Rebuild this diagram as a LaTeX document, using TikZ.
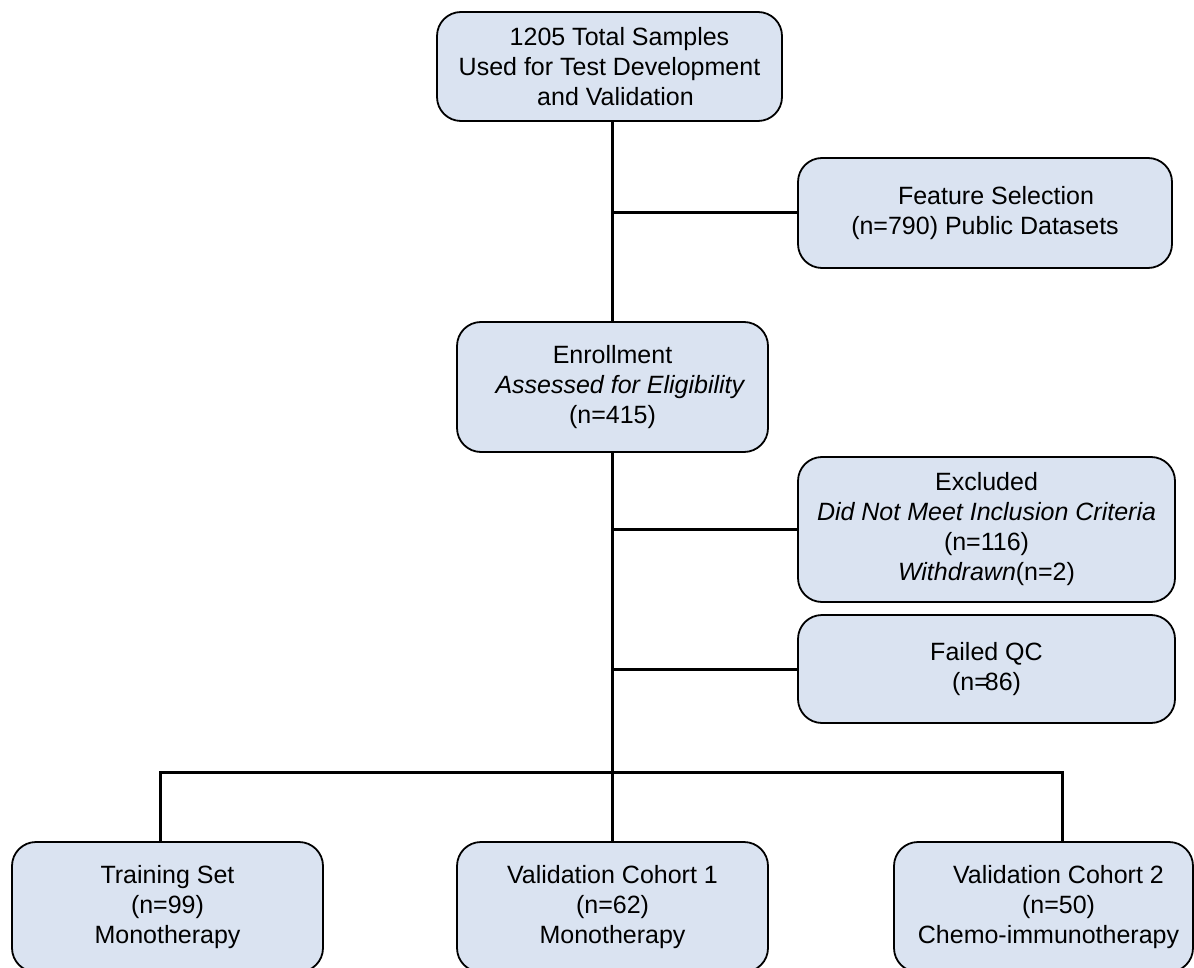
\documentclass[tikz,border=0pt]{standalone}
\usepackage{fontspec}
\setmainfont{Liberation Sans}
\definecolor{boxfill}{RGB}{218,227,241}
\begin{document}
\begin{tikzpicture}[x=1pt,y=-1pt,
  box/.style={draw=black, line width=1.8pt, fill=boxfill, rounded corners=24pt,
    align=center, inner sep=0pt, font=\fontsize{25}{30}\selectfont},
  link/.style={line width=3pt, draw=black}]
\useasboundingbox (0,0) rectangle (1194,968);
\clip (0,0) rectangle (1194,968);
% boxes
\node[box, minimum width=345pt, minimum height=109pt] (top) at (609.5,66.5)
  {\hspace*{20pt}1205 Total Samples\\Used for Test Development\\\hspace*{12pt}and Validation};
\node[box, minimum width=374pt, minimum height=110pt] (feat) at (985,213)
  {\hspace*{22pt}Feature Selection\\(n=790) Public Datasets};
\node[box, minimum width=311pt, minimum height=130pt] (enr) at (612.5,387)
  {Enrollment\\\hspace*{16pt}\textit{Assessed for Eligibility}\\(n=415)};
\node[box, minimum width=377pt, minimum height=145pt] (excl) at (986.5,529.5)
  {Excluded\\\textit{Did Not Meet Inclusion Criteria}\\(n=116)\\\textit{Withdrawn}(n=2)};
\node[box, minimum width=377pt, minimum height=108pt] (fqc) at (986.5,669)
  {Failed QC\\(n=\kern-4pt86)};
\node[box, minimum width=311pt, minimum height=130pt] (train) at (167.5,907)
  {Training Set\\(n=99)\\Monotherapy};
\node[box, minimum width=311pt, minimum height=130pt] (v1) at (612.5,907)
  {Validation Cohort 1\\(n=62)\\Monotherapy};
\node[box, minimum width=299pt, minimum height=130pt] (v2) at (1043.5,907)
  {\hspace*{30pt}Validation Cohort 2\\\hspace*{30pt}(n=50)\\\hspace*{10pt}Chemo-immunotherapy};
% junction coordinates
\coordinate (barL) at (160,772);
\coordinate (barR) at (1062,772);
% connectors
\draw[link] (enr.north |- top.south) -- (enr.north);
\draw[link] (enr.north |- feat.west) -- (feat.west);
\draw[link] (enr.south) -- (v1.north);
\draw[link] (enr.south |- excl.west) -- (excl.west);
\draw[link] (enr.south |- fqc.west) -- (fqc.west);
\draw[link] (barL |- train.north) -- (barL) -- (barR) -- (barR |- v2.north);
\end{tikzpicture}
\end{document}
